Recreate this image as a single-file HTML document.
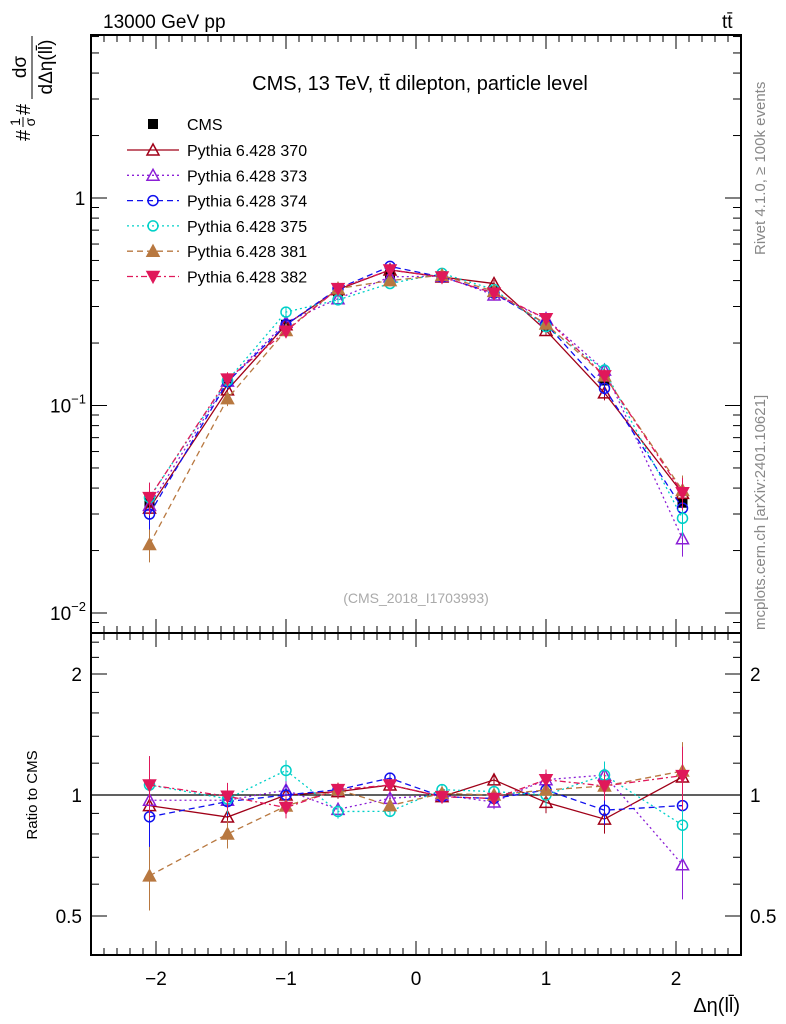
<!DOCTYPE html>
<html><head><meta charset="utf-8"><style>
html,body{margin:0;padding:0;background:#fff;}
svg{display:block;font-family:"Liberation Sans",sans-serif;}
</style></head><body>
<svg id="chart" width="786" height="1024" viewBox="0 0 786 1024" xmlns="http://www.w3.org/2000/svg">
<text x="103" y="28" font-size="19">13000 GeV pp</text>
<text x="722" y="28" font-size="19">tt̄</text>
<text transform="translate(765,255) rotate(-90)" font-size="15" fill="#888" text-anchor="start">Rivet 4.1.0, ≥ 100k events</text>
<text transform="translate(765,630) rotate(-90)" font-size="15" fill="#888">mcplots.cern.ch [arXiv:2401.10621]</text>
<g transform="rotate(-90)">
<text x="-141" y="30" font-size="20">#</text>
<text x="-122" y="20" font-size="14" text-anchor="middle">1</text>
<line x1="-127" y1="23" x2="-117" y2="23" stroke="#000" stroke-width="1"/>
<text x="-122" y="35" font-size="14" text-anchor="middle">σ</text>
<text x="-115" y="30" font-size="20">#</text>
<text x="-67" y="26" font-size="19" text-anchor="middle">dσ</text>
<line x1="-99" y1="32" x2="-36" y2="32" stroke="#000" stroke-width="1"/>
<text x="-67" y="52" font-size="19" text-anchor="middle">dΔη(ll̄)</text>
</g>
<text x="420" y="90" font-size="20" text-anchor="middle">CMS, 13 TeV, tt̄ dilepton, particle level</text>
<text x="416" y="603" font-size="14" fill="#aaa" text-anchor="middle">(CMS_2018_I1703993)</text>
<text transform="translate(37,795) rotate(-90)" font-size="15" text-anchor="middle">Ratio to CMS</text>
<text x="740" y="1012" font-size="20" text-anchor="end">Δη(ll̄)</text>
<g id="ticks"></g>
<g id="series"></g>
<g id="legend"></g>
<rect x="91" y="35" width="650" height="598" fill="none" stroke="#000" stroke-width="2"/>
<rect x="91" y="633" width="650" height="322" fill="none" stroke="#000" stroke-width="2"/>
</svg>
<script>
const xVals=[-2.05,-1.45,-1,-0.6,-0.2,0.2,0.6,1,1.45,2.05];
const cms=[0.034,0.135,0.245,0.355,0.425,0.42,0.355,0.24,0.132,0.034];
const cmsErr=[0.004,0.008,0.012,0.015,0.015,0.015,0.015,0.012,0.008,0.004];
const s370=[0.032,0.119,0.245,0.362,0.45,0.416,0.387,0.230,0.115,0.0377];
const s373=[0.033,0.131,0.252,0.327,0.417,0.42,0.341,0.262,0.148,0.0228];
const s374=[0.030,0.130,0.245,0.366,0.468,0.416,0.348,0.247,0.121,0.032];
const s375=[0.036,0.132,0.282,0.323,0.387,0.433,0.362,0.24,0.148,0.0286];
const s381=[0.0214,0.108,0.230,0.366,0.40,0.424,0.355,0.247,0.139,0.039];
const s382=[0.036,0.134,0.228,0.366,0.45,0.416,0.348,0.262,0.139,0.038];
const relErr=[0.18,0.08,0.06,0.04,0.03,0.03,0.04,0.06,0.08,0.18];
const xTicks=[-2,-1,0,1,2];
const xTickLabels=["−2","−1","0","1","2"];
const ratioTicks=[0.5,1,2];
const ratioTickLabels=["0.5","1","2"];

const NS="http://www.w3.org/2000/svg";
const X=v=>416+v*130;
const Y=v=>198-Math.log10(v)*207.5;
const R=v=>795-Math.log2(v)*121;
function mk(tag,attrs,parent){const e=document.createElementNS(NS,tag);for(const k in attrs)e.setAttribute(k,attrs[k]);parent.appendChild(e);return e;}
const T=document.getElementById('ticks');
for(let v=-2.5;v<=2.5001;v+=0.1){
  const major=Math.abs(v-Math.round(v))<1e-6;const x=X(v);
  const L=major?14:7;
  [[633,-1],[35,1],[955,-1],[633,1]].forEach(([y0,d])=>mk('line',{x1:x,x2:x,y1:y0,y2:y0+d*L,stroke:'#000','stroke-width':1},T));
}
xTicks.forEach((v,i)=>{const t=mk('text',{x:X(v),y:985,'font-size':19,'text-anchor':'middle'},T);t.textContent=xTickLabels[i];

});
for(let e=-3;e<=1;e++)for(let m=1;m<10;m++){const v=m*Math.pow(10,e);const y=Y(v);if(y<35||y>633)continue;const L=m==1?16:8;
 mk('line',{x1:91,x2:91+L,y1:y,y2:y,stroke:'#000'},T);mk('line',{x1:741,x2:741-L,y1:y,y2:y,stroke:'#000'},T);}
[[1,"1",""],[0.1,"10","−1"],[0.01,"10","−2"]].forEach(([v,b,ex])=>{const t=mk('text',{x:ex?68:80,y:Y(v)+7,'font-size':19,'text-anchor':'middle'},T);t.textContent=b;
 
 if(ex){const s=mk('tspan',{dy:-9,'font-size':13},t);s.textContent=ex;}});
[0.4,0.5,0.6,0.7,0.8,0.9,1,1.2,1.4,1.6,1.8,2,2.2,2.4].forEach(v=>{const y=R(v);const major=ratioTicks.includes(v);const L=major?16:8;
 mk('line',{x1:91,x2:91+L,y1:y,y2:y,stroke:'#000'},T);mk('line',{x1:741,x2:741-L,y1:y,y2:y,stroke:'#000'},T);});
ratioTicks.forEach((v,i)=>{[[82,'end'],[750,'start']].forEach(([x,a])=>{const t=mk('text',{x:x,y:R(v)+7,'font-size':19,'text-anchor':a},T);t.textContent=ratioTickLabels[i];
 });});
mk('line',{x1:91,x2:741,y1:R(1),y2:R(1),stroke:'#000','stroke-width':1.2},T);

const series=[
 {name:'Pythia 6.428 370',d:s370,c:'#a00018',dash:'',m:'tri',fill:false},
 {name:'Pythia 6.428 373',d:s373,c:'#8b1fd6',dash:'2,3',m:'tri',fill:false},
 {name:'Pythia 6.428 374',d:s374,c:'#1010ee',dash:'6,4',m:'circ',fill:false},
 {name:'Pythia 6.428 375',d:s375,c:'#00d0c8',dash:'2,3',m:'circ',fill:false},
 {name:'Pythia 6.428 381',d:s381,c:'#b87840',dash:'6,4',m:'tri',fill:true},
 {name:'Pythia 6.428 382',d:s382,c:'#e0185a',dash:'6,3,2,3',m:'dtri',fill:true}];
const S=document.getElementById('series');
function marker(type,x,y,c,fill,g){
 if(type=='circ')return mk('circle',{cx:x,cy:y,r:5,fill:fill?c:'none',stroke:c,'stroke-width':1.5},g);
 if(type=='tri')return mk('polygon',{points:`${x},${y-6} ${x-6},${y+5} ${x+6},${y+5}`,fill:fill?c:'none',stroke:c,'stroke-width':1.5},g);
 if(type=='dtri')return mk('polygon',{points:`${x},${y+6} ${x-6},${y-5} ${x+6},${y-5}`,fill:c,stroke:c,'stroke-width':1.5},g);
 return mk('rect',{x:x-5,y:y-5,width:10,height:10,fill:c},g);
}
const gc=mk('g',{},S);


xVals.forEach((x,i)=>{mk('line',{x1:X(x),x2:X(x),y1:Y(cms[i]+cmsErr[i]),y2:Y(cms[i]-cmsErr[i]),stroke:'#000'},gc);marker('sq',X(x),Y(cms[i]),'#000',true,gc);});
series.forEach(s=>{
 const g=mk('g',{},S);
 
 
 const pts=xVals.map((x,i)=>X(x)+','+Y(s.d[i])).join(' ');
 mk('polyline',{points:pts,fill:'none',stroke:s.c,'stroke-width':1.3,'stroke-dasharray':s.dash},g);
 const rp=xVals.map((x,i)=>X(x)+','+R(s.d[i]/cms[i])).join(' ');
 mk('polyline',{points:rp,fill:'none',stroke:s.c,'stroke-width':1.3,'stroke-dasharray':s.dash},g);
 xVals.forEach((x,i)=>{const v=s.d[i],r=v/cms[i],e=relErr[i];
  mk('line',{x1:X(x),x2:X(x),y1:Y(v*(1+e)),y2:Y(v*(1-e)),stroke:s.c},g);
  mk('line',{x1:X(x),x2:X(x),y1:R(r*(1+e)),y2:R(r*(1-e)),stroke:s.c},g);
  marker(s.m,X(x),Y(v),s.c,s.fill,g);marker(s.m,X(x),R(r),s.c,s.fill,g);});
});
const Lg=document.getElementById('legend');
let ly=124;
const le=mk('g',{},Lg);
marker('sq',153,ly,'#000',true,le);
mk('text',{x:187,y:ly+6,'font-size':16},le).textContent='CMS';
series.forEach((s,i)=>{const y=150+i*25.3;const g=mk('g',{},Lg);
 
 
 mk('line',{x1:127,x2:179,y1:y,y2:y,stroke:s.c,'stroke-width':1.3,'stroke-dasharray':s.dash},g);
 marker(s.m,153,y,s.c,s.fill,g);
 mk('text',{x:187,y:y+6,'font-size':16},g).textContent=s.name;});
</script>
</body></html>
